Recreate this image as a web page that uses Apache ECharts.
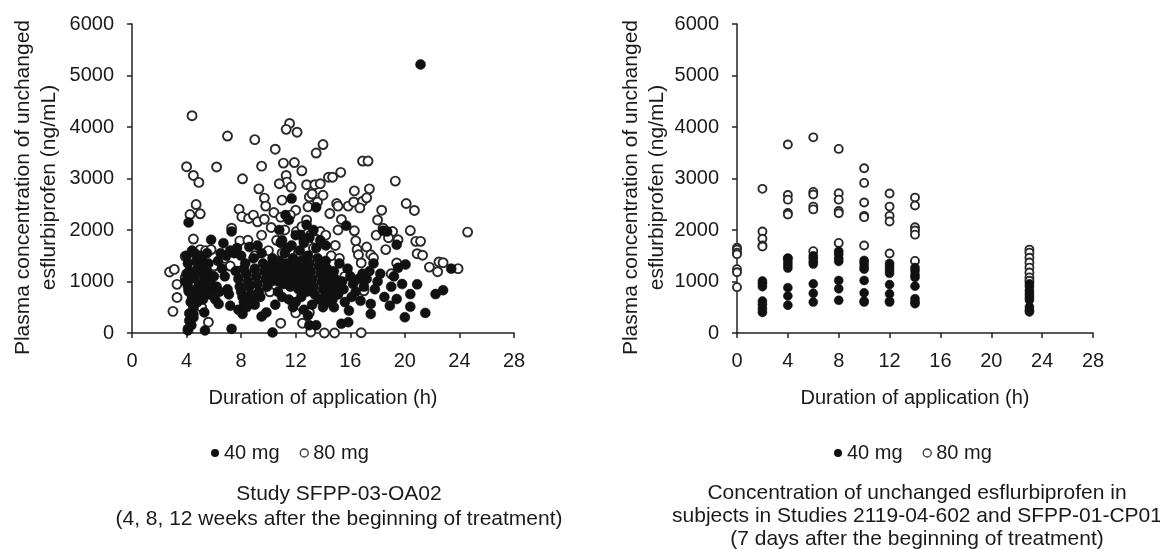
<!DOCTYPE html>
<html>
<head>
<meta charset="utf-8">
<script src="https://cdn.jsdelivr.net/npm/echarts@6/dist/echarts.min.js"></script>
<style>
html,body{margin:0;padding:0;background:#fff;}
#chart{width:1160px;height:549px;}
</style>
</head>
<body>
<div id="chart"></div>
<script>
// ---------- DATA ----------
const xTicks = [0, 4, 8, 12, 16, 20, 24, 28];
const yTicks = [0, 1000, 2000, 3000, 4000, 5000, 6000];
const seriesNames = ['40 mg', '80 mg'];

// Left panel: Study SFPP-03-OA02  [duration (h), concentration (ng/mL)]
const leftFilled40 = [
  [4.0,1500],[4.1,1350],[4.2,1200],[4.3,1050],[4.1,900],[4.2,800],[4.4,700],[4.3,600],[4.5,500],[4.6,1550],
  [4.7,1400],[4.8,1250],[4.6,1100],[4.9,950],[4.7,850],[5.0,750],[5.1,1450],[5.2,1300],[5.0,1150],[5.3,1000],
  [5.4,900],[5.2,650],[5.5,1200],[5.6,1050],[5.8,950],[5.9,850],[5.7,750],[6.0,1100],[6.2,900],[6.4,800],
  [6.6,1250],[6.8,1100],[7.0,850],[7.1,750],[6.3,1400],[5.5,1550],[4.4,1600],[4.0,1150],[4.8,600],[5.6,1350],
  [6.1,650],[4.5,300],[4.2,380],[3.9,1000],[4.9,1500],[5.3,1300],[6.9,1500],[7.2,1600],[6.5,1550],[7.5,1550],
  [4.15,2145],[5.8,1810],[7.3,1970],[6.7,1745],[7.2,530],[6.35,563],[5.3,400],[4.1,50],[4.35,150],[4.2,240],
  [4.5,370],[4.1,80],[5.35,50],[7.3,80],
  [7.6,1200],[7.8,1050],[7.9,900],[8.0,800],[8.1,700],[8.2,600],[8.3,1350],[8.4,1150],[8.5,1000],[8.6,900],
  [8.7,750],[8.8,650],[8.9,1450],[9.0,1250],[9.1,1100],[9.2,950],[9.3,800],[9.4,700],[9.5,1550],[9.6,1350],
  [9.7,1200],[9.8,1050],[9.9,900],[10.0,1300],[10.1,1150],[10.2,1000],[8.0,1500],[8.6,1670],[9.2,1700],[10.3,1450],
  [7.8,450],[8.1,370],[9.5,320],[9.85,400],[10.5,550],[10.3,10],[8.4,500],[9.0,550],[7.7,1650],[8.2,1250],
  [10.5,1300],[10.6,1150],[10.7,1000],[10.8,1400],[10.9,1250],[11.0,1100],[11.1,950],[11.2,1550],[11.3,1350],[11.4,1200],
  [11.5,1050],[11.6,900],[11.7,1700],[11.8,1450],[11.9,1300],[12.0,1150],[12.1,1000],[12.2,850],[12.3,1600],[12.4,1400],
  [12.5,1250],[12.6,1100],[12.7,950],[12.8,800],[12.9,1500],[13.0,1350],[13.1,1200],[13.2,1050],[13.3,900],[13.4,750],
  [13.5,1650],[13.6,1450],[13.7,1300],[13.8,1150],[13.9,1000],[14.0,850],[14.1,700],[14.2,1400],[14.3,1250],[14.4,1100],
  [14.5,950],[14.6,800],[14.7,650],[14.8,1200],[14.9,1050],[15.0,900],[15.1,750],[15.2,1350],[15.4,1000],[15.5,850],
  [10.8,2000],[11.0,1800],[11.25,2290],[11.5,2195],[11.7,2610],[12.35,1905],[12.0,1900],[12.6,1750],[13.0,1850],[13.5,2440],
  [13.3,2000],[13.8,1800],[14.2,1700],[11.4,1650],[10.9,1750],[12.8,2100],
  [11.0,700],[11.5,650],[12.0,600],[12.4,700],[12.9,340],[13.0,150],[13.5,150],[13.2,550],[14.0,500],[14.4,600],
  [13.7,650],[11.8,500],[10.7,800],[12.6,450],[14.8,500],
  [15.7,2085],[15.8,1250],[16.0,1100],[16.2,950],[16.4,800],[16.6,1050],[16.75,625],[17.0,900],[17.2,1050],[17.4,1200],
  [17.5,565],[17.5,370],[17.8,850],[18.0,1000],[18.2,1150],[18.4,1985],[18.7,1970],[18.5,700],[18.9,530],[19.0,900],
  [19.4,660],[19.2,1100],[19.4,1715],[19.5,1265],[19.8,950],[20.05,1330],[20.0,305],[20.4,510],[20.4,755],[20.9,945],
  [21.15,5215],[21.5,390],[22.25,755],[22.8,830],[23.4,1250],[15.9,435],[15.35,180],[15.85,210],[16.1,700],[17.7,1350],
  [16.9,1150],[15.6,600]
];
const leftOpen80 = [
  [4.4,4220],[7.0,3825],[9.0,3755],[11.55,4070],[11.3,3955],[12.1,3900],[10.5,3570],[14.0,3660],[13.5,3495],[4.0,3230],
  [6.2,3225],[9.5,3240],[11.1,3300],[11.9,3310],[16.9,3340],[17.3,3340],[4.5,3060],[4.9,2925],[8.1,2995],[12.45,3150],
  [14.4,3025],[14.7,3025],[15.3,3120],[11.3,3060],[11.35,2930],[10.8,2900],[11.66,2835],[12.8,2880],[13.4,2880],[13.8,2900],
  [19.3,2950],[17.4,2800],[16.3,2760],[9.3,2800],[4.7,2495],[4.25,2300],[5.0,2315],[7.85,2405],[8.05,2260],[8.55,2225],
  [8.9,2290],[9.2,2160],[9.7,2210],[9.7,2620],[9.8,2465],[10.4,2340],[11.0,2580],[13.0,2640],[13.6,2545],[14.0,2675],
  [14.5,2320],[15.0,2515],[15.1,2465],[15.85,2465],[16.25,2545],[16.9,2560],[16.7,2430],[17.2,2625],[18.3,2385],[18.0,2195],
  [18.4,2035],[20.1,2515],[20.7,2380],[20.4,1990],[20.8,1780],[21.15,1780],[20.9,1540],[21.3,1510],[24.6,1960],[19.5,1810],
  [19.1,1970],[21.8,1280],[22.4,1190],[22.5,1380],[22.8,1365],[23.9,1250],[16.3,1985],[16.4,1790],[16.5,1620],[16.6,1520],
  [16.8,1360],[17.2,1670],[17.5,1520],[18.6,1620],[15.35,2205],[15.1,2000],[12.05,1970],[12.45,2065],[12.8,2195],[12.0,2385],
  [11.6,2290],[13.1,1905],[13.45,1810],[13.8,1970],[4.5,1825],[3.9,1490],[4.8,1555],[5.0,1620],[5.4,1600],[5.8,1620],
  [2.75,1185],[3.1,1235],[3.3,945],[3.3,690],[3.0,420],[3.9,1075],[4.15,820],[5.3,885],[7.3,2035],[7.45,1585],
  [7.9,1790],[7.2,1300],[7.75,1200],[5.6,210],[10.9,190],[12.0,390],[12.5,190],[13.1,20],[14.1,0],[14.85,0],
  [16.8,5],[13.0,400],[17.0,820],[17.7,1460],[19.4,1360],
  [10.2,2050],[10.6,1800],[11.2,2000],[12.6,1800],[13.3,1650],[14.2,1900],[14.6,1500],[15.2,1450],[10.0,1600],[9.0,1500],
  [8.5,1800],[12.2,1550],[13.9,1350],[11.8,1200],[6.0,1300],[4.6,650],[5.1,500],[8.2,500],[10.1,800],[15.6,1100],
  [18.8,1850],[19.0,1150],[17.9,1900],[11.0,1550],[9.5,1900],[6.8,1450],[14.9,1700],[12.9,2450],[13.2,2700],[10.9,2250]
];

// Right panel: Studies 2119-04-602 and SFPP-01-CP01  [duration (h), concentration (ng/mL)]
const rightFilled40 = [
  [2,1010],[2,960],[2,900],[2,620],[2,550],[2,470],[2,400],
  [4,1450],[4,1380],[4,1320],[4,1260],[4,880],[4,720],[4,540],
  [6,1500],[6,1450],[6,1390],[6,1340],[6,955],[6,770],[6,600],
  [8,1590],[8,1530],[8,1450],[8,1390],[8,1020],[8,860],[8,635],
  [10,1410],[10,1360],[10,1290],[10,1240],[10,1020],[10,780],[10,620],[10,600],
  [12,1350],[12,1290],[12,1230],[12,1160],[12,940],[12,760],[12,620],[12,600],
  [14,1270],[14,1210],[14,1130],[14,1080],[14,910],[14,665],[14,600],[14,570],
  [23,955],[23,900],[23,825],[23,760],[23,700],[23,640],[23,505],[23,440],[23,410]
];
const rightOpen80 = [
  [0,1655],[0,1620],[0,1560],[0,1530],[0,1240],[0,1180],[0,890],
  [2,2800],[2,1970],[2,1830],[2,1700],[2,1680],
  [4,3660],[4,2680],[4,2590],[4,2330],[4,2300],[4,1450],
  [6,3800],[6,2740],[6,2690],[6,2455],[6,2400],[6,1590],
  [8,3575],[8,2715],[8,2590],[8,2370],[8,2325],[8,1750],
  [10,3200],[10,2915],[10,2535],[10,2275],[10,2250],[10,1700],
  [12,2710],[12,2455],[12,2275],[12,2165],[12,1545],
  [14,2630],[14,2475],[14,2055],[14,1990],[14,1910],[14,1400],
  [23,1620],[23,1560],[23,1460],[23,1370],[23,1270],[23,1175],[23,1080],[23,1015]
];

// ---------- CHART ----------
const FONT = 'Liberation Sans, Arial, Helvetica, sans-serif';
const TXT = '#1a1a1a';
const chart = echarts.init(document.getElementById('chart'), null, {renderer: 'canvas'});

function xAxisCfg(gridIndex) {
  return {
    type: 'value', gridIndex, min: xTicks[0], max: xTicks[xTicks.length - 1], interval: 4,
    name: 'Duration of application (h)', nameLocation: 'middle', nameGap: 55,
    nameTextStyle: {fontFamily: FONT, fontSize: 20, color: TXT},
    axisLine: {show: true, onZero: false, lineStyle: {color: '#222', width: 1.5}},
    axisTick: {show: true, inside: false, length: 5, lineStyle: {color: '#222', width: 1.5}},
    axisLabel: {fontFamily: FONT, fontSize: 20, color: TXT, margin: 18, formatter: v => String(v)},
    splitLine: {show: false}
  };
}
function yAxisCfg(gridIndex, gap) {
  return {
    type: 'value', gridIndex, min: yTicks[0], max: yTicks[yTicks.length - 1], interval: 1000,
    name: 'Plasma concentration of unchanged\nesflurbiprofen (ng/mL)', nameLocation: 'middle', nameGap: gap,
    nameTextStyle: {fontFamily: FONT, fontSize: 21, color: TXT, lineHeight: 26, padding: [0, 18, 0, 0]},
    axisLine: {show: true, lineStyle: {color: '#222', width: 1.5}},
    axisTick: {show: true, inside: false, length: 5, lineStyle: {color: '#222', width: 1.5}},
    axisLabel: {fontFamily: FONT, fontSize: 20, color: TXT, margin: 18, formatter: v => String(v)},
    splitLine: {show: false}
  };
}
const filledStyle = {color: '#111', borderColor: '#111', borderWidth: 0.5, opacity: 1};
const openStyle = {color: '#fff', borderColor: '#2a2a2a', borderWidth: 1.9, opacity: 1};

chart.setOption({
  backgroundColor: '#fff',
  animation: false,
  title: [
    {text: 'Study SFPP-03-OA02\n(4, 8, 12 weeks after the beginning of treatment)',
     left: 334, top: 477, textAlign: 'center',
     textStyle: {fontFamily: FONT, fontSize: 21, fontWeight: 'normal', color: TXT, lineHeight: 25}},
    {text: 'Concentration of unchanged esflurbiprofen in\nsubjects in Studies 2119-04-602 and SFPP-01-CP01\n(7 days after the beginning of treatment)',
     left: 912, top: 477, textAlign: 'center',
     textStyle: {fontFamily: FONT, fontSize: 21, fontWeight: 'normal', color: TXT, lineHeight: 23}}
  ],
  legend: [
    {left: 206, top: 438, itemWidth: 8, itemHeight: 8, itemGap: 20, icon: 'circle',
     textStyle: {fontFamily: FONT, fontSize: 20, color: TXT},
     data: [{name: seriesNames[0], itemStyle: {color: '#111', borderWidth: 0}},
            {name: seriesNames[1], itemStyle: {color: '#fff', borderColor: '#333', borderWidth: 1.3}}]},
    {left: 829, top: 438, itemWidth: 8, itemHeight: 8, itemGap: 20, icon: 'circle',
     textStyle: {fontFamily: FONT, fontSize: 20, color: TXT},
     data: [{name: seriesNames[0], itemStyle: {color: '#111', borderWidth: 0}},
            {name: seriesNames[1], itemStyle: {color: '#fff', borderColor: '#333', borderWidth: 1.3}}]}
  ],
  grid: [
    {left: 132, top: 20, width: 382, height: 313},
    {left: 737, top: 20, width: 356, height: 313}
  ],
  xAxis: [xAxisCfg(0), xAxisCfg(1)],
  yAxis: [yAxisCfg(0, 70), yAxisCfg(1, 64)],
  series: [
    {name: seriesNames[1], type: 'scatter', xAxisIndex: 0, yAxisIndex: 0, data: leftOpen80,
     symbol: 'circle', symbolSize: 9, itemStyle: openStyle, z: 2},
    {name: seriesNames[0], type: 'scatter', xAxisIndex: 0, yAxisIndex: 0, data: leftFilled40,
     symbol: 'circle', symbolSize: 10, itemStyle: filledStyle, z: 3},
    {name: seriesNames[1], type: 'scatter', xAxisIndex: 1, yAxisIndex: 1, data: rightOpen80,
     symbol: 'circle', symbolSize: 8, itemStyle: openStyle, z: 2},
    {name: seriesNames[0], type: 'scatter', xAxisIndex: 1, yAxisIndex: 1, data: rightFilled40,
     symbol: 'circle', symbolSize: 9, itemStyle: filledStyle, z: 3}
  ]
});
</script>
</body>
</html>
